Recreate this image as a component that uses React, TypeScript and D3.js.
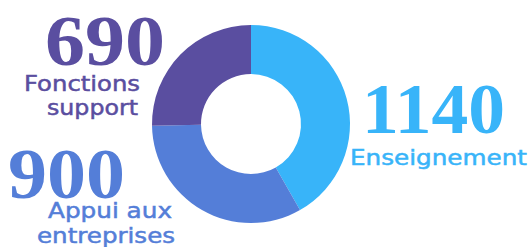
import React, { useRef, useEffect } from 'react';
import * as d3 from 'd3';

// Effectifs par famille de métiers
const categories = ['Enseignement', 'Appui aux entreprises', 'Fonctions support'];
const values = [1140, 900, 690];
const colors = ['#38b4f9', '#547ed8', '#5a4ea0'];
const labelLines = [['Enseignement'], ['Appui aux', 'entreprises'], ['Fonctions', 'support']];

// label placement: big number box, then one [x, baseline, width] per sub line
const numberBoxes = [
  { x: 362, y: 133, w: 143 },
  { x: 8, y: 198, w: 117 },
  { x: 45, y: 65, w: 120 },
];
const lineBoxes = [
  [[350, 165, 177]],
  [[48, 218, 124], [37, 243, 138]],
  [[24, 91, 116], [47, 115, 91]],
];

const App = () => {
  const ref = useRef<SVGSVGElement>(null);

  useEffect(() => {
    const width = 531;
    const height = 247;
    const cx = 251;
    const cy = 124;
    const outer = 99;
    const inner = 50;

    const svg = d3.select(ref.current);
    svg.selectAll('*').remove();
    svg.attr('width', width).attr('height', height);

    const entries = categories.map((key, i) => ({ key, value: values[i], color: colors[i] }));

    const pie = d3.pie<any>().value(d => d.value).sort(null);
    const arc = d3.arc<any>().innerRadius(inner).outerRadius(outer);

    svg.append('g')
      .attr('transform', `translate(${cx},${cy})`)
      .selectAll('path')
      .data(pie(entries))
      .join('path')
      .attr('d', arc)
      .attr('fill', d => d.data.color);

    // labels
    entries.forEach((d, i) => {
      const nb = numberBoxes[i];
      svg.append('text')
        .attr('x', nb.x)
        .attr('y', nb.y)
        .attr('fill', d.color)
        .attr('font-family', '"Liberation Serif", "DejaVu Serif", serif')
        .attr('font-weight', 700)
        .attr('font-size', 72)
        .attr('textLength', nb.w)
        .attr('lengthAdjust', 'spacingAndGlyphs')
        .text(d3.format('d')(d.value));

      labelLines[i].forEach((line, j) => {
        const [lx, ly, lw] = lineBoxes[i][j];
        svg.append('text')
          .attr('x', lx)
          .attr('y', ly)
          .attr('fill', d.color)
          .attr('stroke', d.color)
          .attr('stroke-width', 0.5)
          .attr('font-family', '"DejaVu Sans", sans-serif')
          .attr('font-size', 21)
          .attr('textLength', lw)
          .attr('lengthAdjust', 'spacingAndGlyphs')
          .text(line);
      });
    });
  }, []);

  return (
    <div style={{ position: 'absolute', left: 0, top: 0, background: '#fff' }}>
      <svg ref={ref}></svg>
    </div>
  );
};

export default App;
